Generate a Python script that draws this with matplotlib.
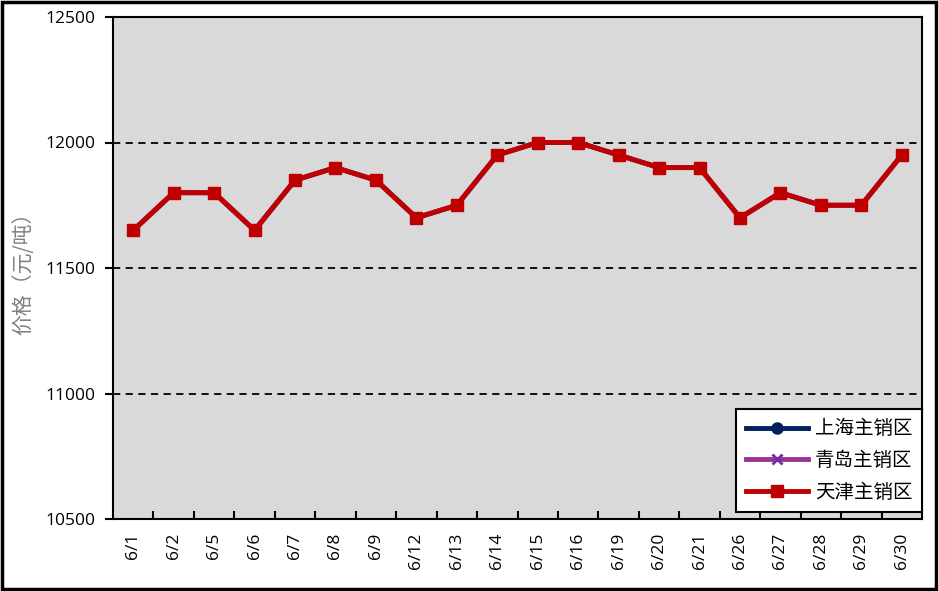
import matplotlib
matplotlib.use('Agg')
from matplotlib import pyplot as plt
from matplotlib.patches import Rectangle

plt.rcParams['font.family'] = ['Open Sans', 'Noto Sans CJK SC', 'DejaVu Sans']

dates = ['6/1', '6/2', '6/5', '6/6', '6/7', '6/8', '6/9', '6/12', '6/13', '6/14',
         '6/15', '6/16', '6/19', '6/20', '6/21', '6/26', '6/27', '6/28', '6/29', '6/30']
shanghai = [11650, 11800, 11800, 11650, 11850, 11900, 11850, 11700, 11750, 11950,
            12000, 12000, 11950, 11900, 11900, 11700, 11800, 11750, 11750, 11950]
qingdao = [11650, 11800, 11800, 11650, 11850, 11900, 11850, 11700, 11750, 11950,
           12000, 12000, 11950, 11900, 11900, 11700, 11800, 11750, 11750, 11950]
tianjin = [11650, 11800, 11800, 11650, 11850, 11900, 11850, 11700, 11750, 11950,
           12000, 12000, 11950, 11900, 11900, 11700, 11800, 11750, 11750, 11950]
yticks = [10500, 11000, 11500, 12000, 12500]

fig = plt.figure(figsize=(9.38, 5.91), dpi=100)
ax = fig.add_axes([113 / 938, 1 - 519 / 591, 809 / 938, 502 / 591])
ax.set_facecolor('#d9d9d9')

x = list(range(len(dates)))
ax.plot(x, shanghai, color='#002060', lw=3.5, marker='o', ms=8, label='上海主销区', zorder=3)
ax.plot(x, qingdao, color='#993399', lw=3.5, marker='x', ms=7, mew=2, mec='#7030a0',
        label='青岛主销区', zorder=4)
ax.plot(x, tianjin, color='#c00000', lw=3.5, marker='s', ms=9, label='天津主销区', zorder=5)

ax.set_xlim(-0.5, len(dates) - 0.5)
ax.set_ylim(10500, 12500)
ax.set_yticks(yticks)
ax.set_yticklabels([str(v) for v in yticks], fontsize=12.5)
for v in yticks[1:-1]:
    ax.axhline(v, color='black', lw=1.3, ls=(0, (4, 3)), zorder=1)

# category labels centered, tick marks between categories
ax.set_xticks(x)
ax.set_xticklabels(dates, rotation=90, fontsize=12.5)
ax.tick_params(axis='x', length=0, pad=10)
ax.set_xticks([i + 0.5 for i in x[:-1]], minor=True)
ax.tick_params(axis='x', which='minor', direction='in', length=6, width=1.5)
ax.tick_params(axis='y', direction='out', length=6, width=1.5, pad=7)

for s in ax.spines.values():
    s.set_linewidth(1.5)

ax.set_ylabel('价格（元/吨）', fontsize=15, color='#808080',
              family=['Noto Sans CJK SC', 'DejaVu Sans'], labelpad=8)

leg = ax.legend(loc='lower right', bbox_to_anchor=(1.0, 0.013), borderaxespad=0,
                frameon=True, fancybox=False, edgecolor='black', facecolor='white',
                framealpha=1, handlelength=3.2, handletextpad=0.35, labelspacing=0.55,
                borderpad=0.5, prop={'family': ['Noto Sans CJK SC'], 'size': 14})
leg.get_frame().set_linewidth(1.5)

fig.patches.append(Rectangle((0.002, 0.003), 0.996, 0.994, transform=fig.transFigure,
                             fill=False, edgecolor='black', lw=2.5))

fig.savefig('out.png', dpi=100)
